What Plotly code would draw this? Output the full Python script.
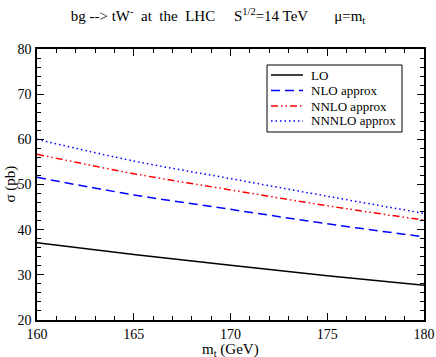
import plotly.graph_objects as go

# top-quark mass (GeV)
mt = [160, 165, 170, 175, 180]

# cross sections (pb)
sigma_lo = [37.1, 34.5, 32.1, 29.8, 27.7]
sigma_nlo = [51.6, 47.7, 44.5, 41.3, 38.4]
sigma_nnlo = [56.7, 52.4, 48.8, 45.3, 42.1]
sigma_nnnlo = [60.0, 55.2, 51.3, 47.4, 43.6]

names = ['LO', 'NLO approx', 'NNLO approx', 'NNNLO approx']

x_ticks = [160, 165, 170, 175, 180]
y_ticks = [20, 30, 40, 50, 60, 70, 80]

serif = "Liberation Serif"

# figure geometry (pixels)
W, H = 436, 357
L, R, T, B = 37, 12, 49, 37


def px_x(px):
    return (px - L) / (W - L - R)


def px_y(py):
    return (H - B - py) / (H - T - B)


styles = [
    dict(color='black', width=1.5),
    dict(color='#0000ff', width=1.5, dash='9px,5px'),
    dict(color='#ff0000', width=1.5, dash='7px,3px,1.5px,3px,1.5px,3px'),
    dict(color='#0000ff', width=1.5, dash='1.5px,3px'),
]

fig = go.Figure()

for name, ys, st in zip(names, [sigma_lo, sigma_nlo, sigma_nnlo, sigma_nnnlo], styles):
    fig.add_trace(go.Scatter(x=mt, y=ys, mode='lines', name=name,
                             line=dict(shape='spline', **st), showlegend=False))

# invisible trace on the mirrored axes so the top/right ticks get drawn
fig.add_trace(go.Scatter(x=mt, y=sigma_lo, xaxis='x2', yaxis='y2', mode='lines',
                         line=dict(width=0), showlegend=False, hoverinfo='skip'))

axis_common = dict(
    showgrid=False, zeroline=False, showline=True, linecolor='black', linewidth=1.5,
    ticks='inside', ticklen=7, tickcolor='black', tickwidth=1.2, automargin=False,
    tickfont=dict(family=serif, size=14, color='black'),
)

fig.update_layout(
    font=dict(family=serif, color='black'),
    title=dict(
        text='bg --> tW<sup>-</sup>  at  the  LHC     S<sup>1/2</sup>=14 TeV       μ=m<sub>t</sub>',
        font=dict(family=serif, size=15, color='black'),
        x=0.5, xanchor='center', y=0.955, yanchor='middle'
    ),
    xaxis=dict(
        range=[160, 180], tickvals=x_ticks, ticklabelstandoff=0,
        minor=dict(dtick=1, ticks='inside', ticklen=4, tickcolor='black'),
        **axis_common
    ),
    yaxis=dict(
        range=[20, 80], tickvals=y_ticks, ticklabelstandoff=1,
        minor=dict(dtick=2, ticks='inside', ticklen=4, tickcolor='black'),
        **axis_common
    ),
    xaxis2=dict(
        range=[160, 180], tickvals=x_ticks, overlaying='x', side='top', anchor='y',
        showticklabels=False,
        minor=dict(dtick=1, ticks='inside', ticklen=4, tickcolor='black'),
        **axis_common
    ),
    yaxis2=dict(
        range=[20, 80], tickvals=y_ticks, overlaying='y', side='right', anchor='x',
        showticklabels=False,
        minor=dict(dtick=2, ticks='inside', ticklen=4, tickcolor='black'),
        **axis_common
    ),
    showlegend=False,
    plot_bgcolor='white',
    paper_bgcolor='white',
    width=W, height=H,
    margin=dict(l=L, r=R, t=T, b=B, autoexpand=False),
)

# compact boxed legend, drawn by hand to match the original spacing
fig.add_shape(type='rect', xref='paper', yref='paper',
              x0=px_x(267), x1=px_x(402), y0=px_y(132), y1=px_y(65),
              line=dict(color='black', width=1), fillcolor='white', layer='above')
row_y = [75, 90.5, 106, 121]
for name, st, ry in zip(names, styles, row_y):
    fig.add_shape(type='line', xref='paper', yref='paper',
                  x0=px_x(271), x1=px_x(303), y0=px_y(ry), y1=px_y(ry),
                  line=st, layer='above')
    fig.add_annotation(text=name, xref='paper', yref='paper',
                       x=px_x(309), y=px_y(ry), xanchor='left', yanchor='middle',
                       showarrow=False, font=dict(family=serif, size=13, color='black'))

# axis titles placed by hand, like the original
fig.add_annotation(text='m<sub>t</sub> (GeV)', xref='paper', yref='paper',
                   x=0.5, y=px_y(339), xanchor='center', yanchor='top', showarrow=False,
                   font=dict(family=serif, size=15, color='black'))
fig.add_annotation(text='σ (pb)', xref='paper', yref='paper', textangle=-90,
                   x=px_x(10), y=0.5, xanchor='center', yanchor='middle', showarrow=False,
                   font=dict(family=serif, size=15, color='black'))

# drop the browser's default body margin so the 436x357 figure fills the window
fig.write_html("out.html", config={'displayModeBar': False},
               post_script="document.body.style.margin='0';")
